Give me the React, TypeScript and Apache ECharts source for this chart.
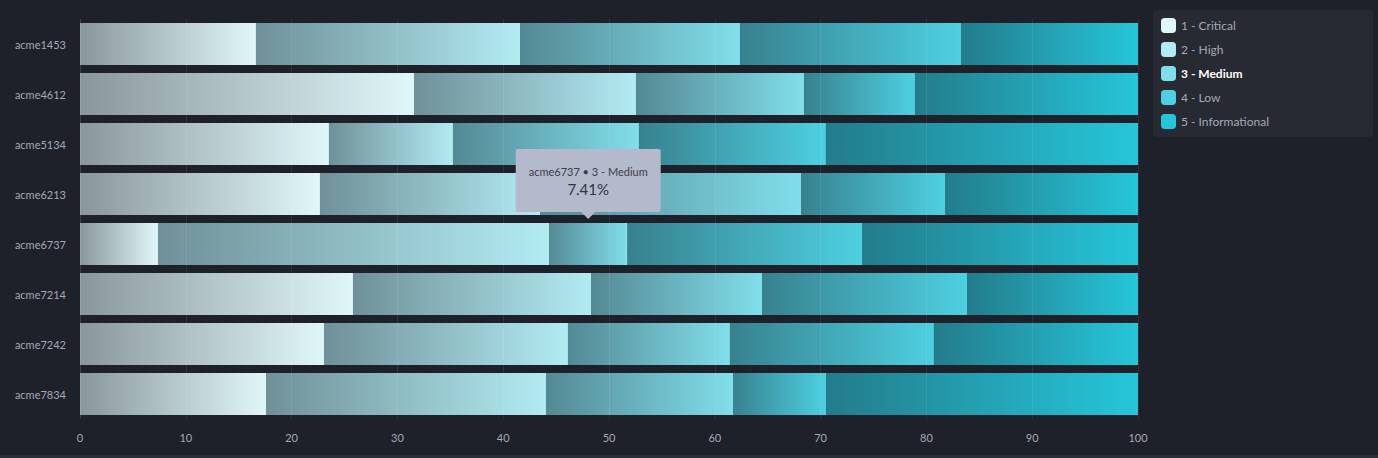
import React, { useEffect, useRef } from "react";
import * as echarts from "echarts";

const hosts = ["acme1453", "acme4612", "acme5134", "acme6213", "acme6737", "acme7214", "acme7242", "acme7834"];
const severities = ["1 - Critical", "2 - High", "3 - Medium", "4 - Low", "5 - Informational"];
const severityColors = ["#e0f7fa", "#b2ebf2", "#80deea", "#4dd0e1", "#26c6da"];
// percentage per host for each severity
const critical = [16.63, 31.57, 23.53, 22.68, 7.37, 25.8, 23.06, 17.58];
const high = [24.96, 20.98, 11.72, 20.82, 36.96, 22.5, 23.06, 26.47];
const medium = [20.79, 15.88, 17.58, 24.65, 7.41, 16.16, 15.31, 17.67];
const low = [20.89, 10.49, 17.67, 13.61, 22.2, 19.38, 19.28, 8.79];
const informational = [16.73, 21.08, 29.5, 18.24, 26.06, 16.16, 19.29, 29.49];
const xTicks = { min: 0, max: 100, interval: 10 };
const tooltipHost = "acme6737";
const tooltipSeverity = 2;

const seriesValues = [critical, high, medium, low, informational];
const FONT = "Lato, 'Noto Sans', sans-serif";

function hexToRgba(hex: string, a: number) {
  const n = parseInt(hex.slice(1), 16);
  return `rgba(${(n >> 16) & 255},${(n >> 8) & 255},${n & 255},${a})`;
}

export default function App() {
  const ref = useRef<HTMLDivElement>(null);
  useEffect(() => {
    if (!ref.current) return;
    const chart = echarts.init(ref.current, null, { renderer: "svg" });
    const series = severities.map((name, si) => ({
      name,
      type: "bar",
      stack: "total",
      barCategoryGap: "16%",
      itemStyle: { color: severityColors[si] },
      emphasis: { disabled: true },
      data: seriesValues[si].map((v) => ({
        value: v,
        itemStyle: {
          color: new echarts.graphic.LinearGradient(0, 0, 1, 0, [
            { offset: 0, color: hexToRgba(severityColors[si], 0.55) },
            { offset: 1, color: severityColors[si] },
          ]),
        },
      })),
    }));

    const baseGraphics = [
      {
        type: "rect",
        left: 1153,
        top: 10,
        shape: { width: 220, height: 127, r: 4 },
        style: { fill: "#272a33" },
        z: -1,
      },
      {
        type: "rect",
        left: 0,
        top: 455,
        shape: { width: 1378, height: 3 },
        style: { fill: "#2b2f39" },
      },
    ];

    chart.setOption({
      animation: false,
      backgroundColor: "#1e212a",
      textStyle: { fontFamily: FONT },
      grid: { left: 80, right: 240, top: 19, height: 400 },
      legend: {
        orient: "vertical",
        left: 1161,
        top: 18,
        padding: 0,
        itemWidth: 15,
        itemHeight: 15,
        itemGap: 9,
        icon: "roundRect",
        selectedMode: false,
        textStyle: { color: "#a3a9b6", fontSize: 12, fontFamily: FONT },
        data: severities.map((name, i) => ({
          name,
          itemStyle: { color: severityColors[i] },
          textStyle: i === tooltipSeverity ? { color: "#ffffff", fontWeight: "bold" } : undefined,
        })),
      },
      xAxis: {
        type: "value",
        min: xTicks.min,
        max: xTicks.max,
        interval: xTicks.interval,
        z: 5,
        axisLine: { show: false },
        axisTick: { show: false },
        axisLabel: { color: "#a3a9b6", fontSize: 11, margin: 13, fontFamily: FONT },
        splitLine: { show: true, lineStyle: { color: "rgba(255,255,255,0.08)", width: 1 } },
      },
      yAxis: {
        type: "category",
        data: hosts,
        inverse: true,
        axisLine: { show: true, lineStyle: { color: "#2a2e38" } },
        axisTick: { show: false },
        axisLabel: { color: "#a3a9b6", fontSize: 11, margin: 14, fontFamily: FONT },
        splitLine: { show: false },
      },
      series,
      graphic: baseGraphics,
    });

    // place the tooltip from the data
    const hi = hosts.indexOf(tooltipHost);
    let start = 0;
    for (let s = 0; s < tooltipSeverity; s++) start += seriesValues[s][hi];
    const val = seriesValues[tooltipSeverity][hi];
    const pt = chart.convertToPixel({ gridIndex: 0 }, [start + val / 2, tooltipHost]) as number[];
    const cx = pt[0];
    const tipY = pt[1] - 21 - 4;
    const w = 145;
    const h = 63;
    const top = tipY - 7 - h;
    chart.setOption({
      graphic: [
        ...baseGraphics,
        {
          type: "rect",
          z: 100,
          shape: { x: cx - w / 2, y: top, width: w, height: h, r: 2 },
          style: { fill: "#b4b9cb" },
        },
        {
          type: "polygon",
          z: 100,
          shape: { points: [[cx - 7, top + h], [cx, tipY], [cx + 7, top + h]] },
          style: { fill: "#b4b9cb" },
        },
        {
          type: "text",
          z: 101,
          x: cx,
          y: top + 22,
          style: {
            text: `${tooltipHost} • ${severities[tooltipSeverity]}`,
            fill: "#3b404c",
            fontSize: 11,
            fontFamily: FONT,
            align: "center",
            verticalAlign: "middle",
          },
        },
        {
          type: "text",
          z: 101,
          x: cx,
          y: top + 40,
          style: {
            text: `${val.toFixed(2)}%`,
            fill: "#2f3440",
            fontSize: 15,
            fontFamily: FONT,
            align: "center",
            verticalAlign: "middle",
          },
        },
      ],
    });

    return () => chart.dispose();
  }, []);
  return (
    <div
      ref={ref}
      style={{ position: "fixed", left: 0, top: 0, width: 1378, height: 458, background: "#1e212a" }}
    />
  );
}
